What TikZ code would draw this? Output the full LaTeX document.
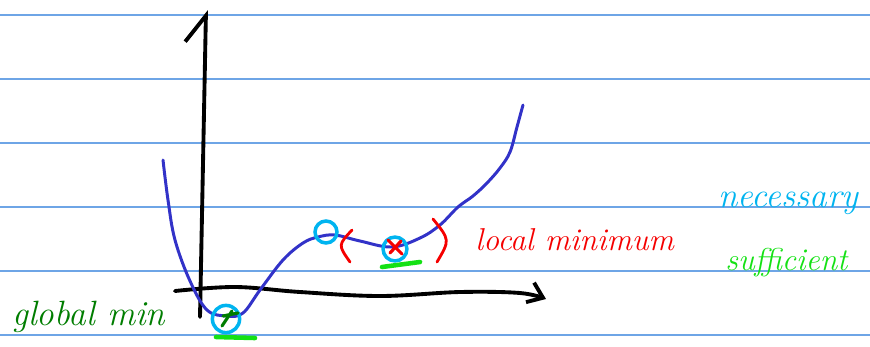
\documentclass[tikz,border=0pt]{standalone}
\usepackage{tikz}
\definecolor{rulblue}{RGB}{110,165,230}
\definecolor{curveblue}{RGB}{50,50,200}
\definecolor{mkcyan}{RGB}{0,180,240}
\definecolor{mkred}{RGB}{245,0,0}
\definecolor{mkdgreen}{RGB}{0,125,0}
\definecolor{mkgreen}{RGB}{20,225,20}
\usetikzlibrary{arrows.meta,positioning}

\begin{document}
\begin{tikzpicture}[x=0.02cm,y=-0.02cm,
  pen/.style={line width=2.2pt,line cap=round,line join=round},
  ring/.style={draw=mkcyan,line width=2pt,circle,inner sep=0pt},
  hand/.style={font=\itshape\fontsize{#1}{#1}\selectfont,anchor=base west,inner sep=0pt}]
  \useasboundingbox (0,0) rectangle (870,346);
  % ruled paper
  \foreach \y in {15,79,143,207,271,335}
    \draw[rulblue,line width=0.8pt] (0,\y) -- (870,\y);
  % axes
  \coordinate (ybot) at (200,317);
  \coordinate (ytop) at (206,10);
  \draw[pen,-{Straight Barb[left,length=15pt,width=23pt]}] (ybot) -- (ytop);
  \draw[pen,-{Straight Barb[length=8pt,width=12pt]}] plot[smooth,tension=0.6]
    coordinates {(175,291) (235,287) (300,292) (380,296) (460,292) (520,293) (546,299)};
  % the function
  \draw[curveblue,line width=1.7pt,line cap=round] plot[smooth,tension=0.6] coordinates {
    (163,160) (168,200) (175,240) (190,281) (207,310) (227,316) (243,313) (260,290)
    (283,260) (303,243) (318,237) (335,235) (360,241) (392,247) (420,238) (440,225)
    (458,207) (473,196) (487,183) (500,168) (510,152) (517,127) (523,105)};
  % critical points
  \node[ring,minimum size=12.5pt] (crit) at (326,232) {};
  \node[ring,minimum size=13.6pt] (lmin) at (395,249) {};
  \node[ring,minimum size=15.5pt] (gmin) at (226,319) {};
  \draw[mkred,pen,line width=1.8pt] (388,240) -- (402,254) (401,241) -- (390,253);
  \draw[mkdgreen,pen,line width=1.8pt] (222,326) -- (232,311) (223,316) -- (238,313);
  \draw[mkred,pen,line width=1.6pt] (352,230) .. controls (338,245) .. (350,262);
  \draw[mkred,pen,line width=1.6pt] (433,219) .. controls (450,240) .. (437,262);
  \draw[mkgreen,pen,line width=2.6pt] (216,337) -- (255,338);
  \draw[mkgreen,pen,line width=2.6pt] (382,267) -- (420,262);
  % labels
  \node[hand=20,text=mkdgreen] (glob) at (12,325) {global min};
  \node[hand=18,text=mkred] (loc) at (475,250) {local minimum};
  \node[hand=20,text=mkcyan] (nec) at (718,207) {necessary};
  \node[hand=18,text=mkgreen] (suf) at (725,270) {sufficient};
\end{tikzpicture}
\end{document}
